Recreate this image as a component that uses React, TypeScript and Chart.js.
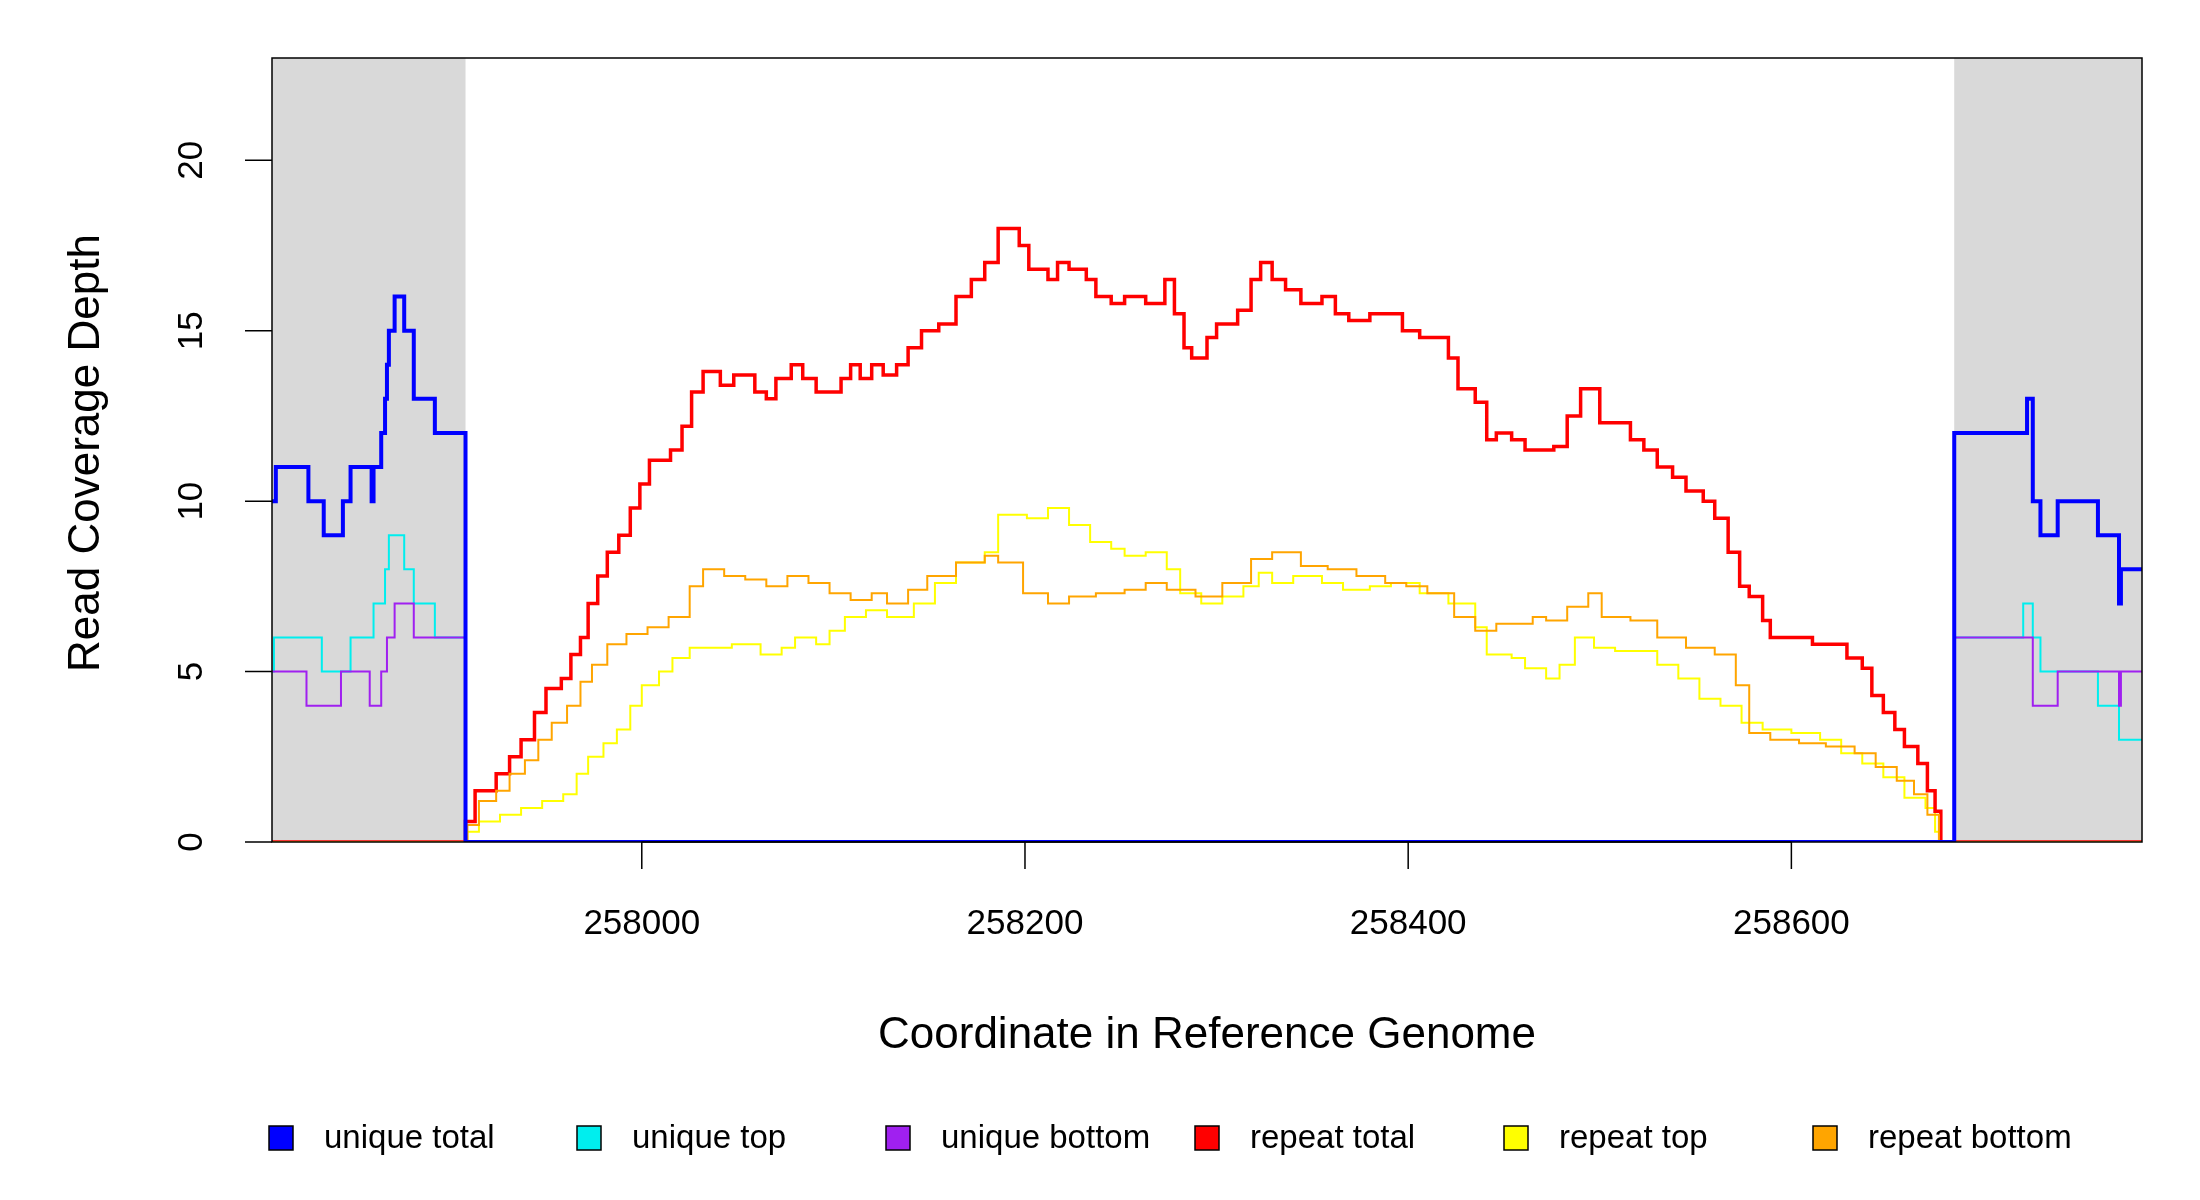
import React, { useEffect, useRef } from "react";
import { Chart, registerables } from "chart.js";
Chart.register(...registerables);

const X_MIN = 257807;
const X_MAX = 258783;
const Y_MAX = 23;
const SHADE_LEFT = [257807, 257908];
const SHADE_RIGHT = [258685, 258783];
const X_TICKS = [258000, 258200, 258400, 258600];
const Y_TICKS = [0, 5, 10, 15, 20];

const uniqueTotalX = [257807, 257809, 257826, 257834, 257844, 257848, 257859, 257860, 257864, 257866, 257867, 257868, 257871, 257876, 257881, 257892, 257908, 258685, 258723, 258726, 258730, 258739, 258760, 258771, 258772, 258783];
const uniqueTotalY = [10, 11, 10, 9, 10, 11, 10, 11, 12, 13, 14, 15, 16, 15, 13, 12, 0, 12, 13, 10, 9, 10, 9, 7, 8, 8];

const uniqueTopX = [257807, 257808, 257833, 257848, 257860, 257866, 257868, 257876, 257881, 257892, 257908, 258685, 258721, 258726, 258730, 258760, 258771, 258783];
const uniqueTopY = [5, 6, 5, 6, 7, 8, 9, 8, 7, 6, 0, 6, 7, 6, 5, 4, 3, 3];

const uniqueBottomX = [257807, 257825, 257843, 257858, 257864, 257867, 257871, 257881, 257908, 258685, 258726, 258739, 258771, 258772, 258783];
const uniqueBottomY = [5, 4, 5, 4, 5, 6, 7, 6, 0, 6, 4, 5, 4, 5, 5];

const repeatTotalX = [257807, 257908, 257913, 257924, 257931, 257937, 257944, 257950, 257958, 257963, 257968, 257972, 257977, 257982, 257988, 257994, 257999, 258004, 258015, 258021, 258026, 258032, 258041, 258048, 258059, 258065, 258070, 258078, 258084, 258091, 258098, 258104, 258109, 258114, 258120, 258126, 258133, 258139, 258146, 258155, 258164, 258172, 258179, 258186, 258197, 258202, 258212, 258217, 258223, 258232, 258237, 258245, 258252, 258263, 258273, 258278, 258283, 258287, 258295, 258300, 258311, 258318, 258323, 258329, 258336, 258344, 258355, 258362, 258369, 258380, 258391, 258397, 258406, 258413, 258421, 258426, 258435, 258441, 258446, 258454, 258461, 258468, 258476, 258483, 258490, 258500, 258508, 258516, 258523, 258530, 258538, 258545, 258554, 258560, 258567, 258573, 258578, 258585, 258589, 258600, 258611, 258622, 258629, 258637, 258642, 258648, 258654, 258659, 258666, 258671, 258675, 258678, 258783];
const repeatTotalY = [0, 0.6, 1.5, 2, 2.5, 3, 3.8, 4.5, 4.8, 5.5, 6, 7, 7.8, 8.5, 9, 9.8, 10.5, 11.2, 11.5, 12.2, 13.2, 13.8, 13.4, 13.7, 13.2, 13, 13.6, 14, 13.6, 13.2, 13.2, 13.6, 14, 13.6, 14, 13.7, 14, 14.5, 15, 15.2, 16, 16.5, 17, 18, 17.5, 16.8, 16.5, 17, 16.8, 16.5, 16, 15.8, 16, 15.8, 16.5, 15.5, 14.5, 14.2, 14.8, 15.2, 15.6, 16.5, 17, 16.5, 16.2, 15.8, 16, 15.5, 15.3, 15.5, 15.5, 15, 14.8, 14.8, 14.2, 13.3, 12.9, 11.8, 12, 11.8, 11.5, 11.5, 11.6, 12.5, 13.3, 12.3, 12.3, 11.8, 11.5, 11, 10.7, 10.3, 10, 9.5, 8.5, 7.5, 7.2, 6.5, 6, 6, 5.8, 5.8, 5.4, 5.1, 4.3, 3.8, 3.3, 2.8, 2.3, 1.5, 0.9, 0, 0];

const repeatTopX = [257807, 257909, 257915, 257926, 257937, 257948, 257959, 257966, 257972, 257980, 257987, 257994, 258000, 258009, 258016, 258025, 258047, 258062, 258073, 258080, 258091, 258098, 258106, 258117, 258128, 258142, 258153, 258164, 258179, 258186, 258201, 258212, 258223, 258234, 258245, 258252, 258263, 258274, 258281, 258292, 258303, 258314, 258322, 258329, 258340, 258355, 258366, 258380, 258391, 258406, 258421, 258435, 258441, 258454, 258461, 258472, 258479, 258487, 258497, 258508, 258519, 258530, 258541, 258552, 258563, 258574, 258585, 258600, 258615, 258626, 258637, 258648, 258659, 258670, 258675, 258678, 258783];
const repeatTopY = [0, 0.3, 0.6, 0.8, 1, 1.2, 1.4, 2, 2.5, 2.9, 3.3, 4, 4.6, 5, 5.4, 5.7, 5.8, 5.5, 5.7, 6, 5.8, 6.2, 6.6, 6.8, 6.6, 7, 7.6, 8.2, 8.5, 9.6, 9.5, 9.8, 9.3, 8.8, 8.6, 8.4, 8.5, 8, 7.3, 7, 7.2, 7.5, 7.9, 7.6, 7.8, 7.6, 7.4, 7.5, 7.6, 7.3, 7, 6.3, 5.5, 5.4, 5.1, 4.8, 5.2, 6, 5.7, 5.6, 5.6, 5.2, 4.8, 4.2, 4, 3.5, 3.3, 3.2, 3, 2.6, 2.3, 1.9, 1.3, 1, 0.3, 0, 0];

const repeatBottomX = [257807, 257909, 257915, 257924, 257931, 257939, 257946, 257953, 257961, 257968, 257974, 257982, 257992, 258003, 258014, 258025, 258032, 258043, 258054, 258065, 258076, 258087, 258098, 258109, 258120, 258128, 258139, 258149, 258164, 258179, 258186, 258199, 258212, 258223, 258237, 258252, 258263, 258274, 258289, 258303, 258318, 258329, 258344, 258358, 258373, 258388, 258399, 258410, 258424, 258435, 258446, 258465, 258472, 258483, 258494, 258501, 258516, 258530, 258545, 258560, 258571, 258578, 258589, 258604, 258618, 258633, 258644, 258655, 258664, 258671, 258677, 258783];
const repeatBottomY = [0, 0.5, 1.2, 1.5, 2, 2.4, 3, 3.5, 4, 4.7, 5.2, 5.8, 6.1, 6.3, 6.6, 7.5, 8, 7.8, 7.7, 7.5, 7.8, 7.6, 7.3, 7.1, 7.3, 7, 7.4, 7.8, 8.2, 8.4, 8.2, 7.3, 7, 7.2, 7.3, 7.4, 7.6, 7.4, 7.2, 7.6, 8.3, 8.5, 8.1, 8, 7.8, 7.6, 7.5, 7.3, 6.6, 6.2, 6.4, 6.6, 6.5, 6.9, 7.3, 6.6, 6.5, 6, 5.7, 5.5, 4.6, 3.2, 3, 2.9, 2.8, 2.6, 2.2, 1.8, 1.4, 0.8, 0, 0];

const SERIES = [
  { label: "unique total", xs: uniqueTotalX, ys: uniqueTotalY, color: "#0000ff", width: 4, order: 0 },
  { label: "unique top", xs: uniqueTopX, ys: uniqueTopY, color: "#00eeee", width: 2, order: 5 },
  { label: "unique bottom", xs: uniqueBottomX, ys: uniqueBottomY, color: "#a020f0", width: 2, order: 4 },
  { label: "repeat total", xs: repeatTotalX, ys: repeatTotalY, color: "#ff0000", width: 3.5, order: 2 },
  { label: "repeat top", xs: repeatTopX, ys: repeatTopY, color: "#ffff00", width: 2, order: 3 },
  { label: "repeat bottom", xs: repeatBottomX, ys: repeatBottomY, color: "#ffa500", width: 2, order: 1 },
];
const LEGEND_X = [281, 589, 898, 1207, 1516, 1825];

const FONT = "'Liberation Sans', Arial, sans-serif";

const rPlugin = {
  id: "rstyle",
  beforeDatasetsDraw(chart: any) {
    const { ctx, chartArea: a, scales } = chart;
    const x = scales.x;
    ctx.save();
    ctx.fillStyle = "#d9d9d9";
    for (const s of [SHADE_LEFT, SHADE_RIGHT]) {
      const x0 = x.getPixelForValue(s[0]);
      const x1 = x.getPixelForValue(s[1]);
      ctx.fillRect(x0, a.top, x1 - x0, a.bottom - a.top);
    }
    ctx.restore();
  },
  afterDraw(chart: any) {
    const { ctx, chartArea: a, scales } = chart;
    const x = scales.x;
    const y = scales.y;
    ctx.save();
    ctx.strokeStyle = "#000";
    ctx.lineWidth = 1.5;
    ctx.strokeRect(a.left, a.top, a.right - a.left, a.bottom - a.top);
    ctx.fillStyle = "#000";
    ctx.font = `35px ${FONT}`;
    ctx.beginPath();
    ctx.moveTo(x.getPixelForValue(X_TICKS[0]), a.bottom);
    ctx.lineTo(x.getPixelForValue(X_TICKS[X_TICKS.length - 1]), a.bottom);
    ctx.textAlign = "center";
    ctx.textBaseline = "middle";
    for (const t of X_TICKS) {
      const px = x.getPixelForValue(t);
      ctx.moveTo(px, a.bottom);
      ctx.lineTo(px, a.bottom + 27);
      ctx.fillText(String(t), px, a.bottom + 82);
    }
    for (const t of Y_TICKS) {
      const py = y.getPixelForValue(t);
      ctx.moveTo(a.left, py);
      ctx.lineTo(a.left - 27, py);
      ctx.save();
      ctx.translate(a.left - 80, py);
      ctx.rotate(-Math.PI / 2);
      ctx.fillText(String(t), 0, 0);
      ctx.restore();
    }
    ctx.stroke();
    ctx.font = `44px ${FONT}`;
    ctx.fillText("Coordinate in Reference Genome", (a.left + a.right) / 2, 1036);
    ctx.save();
    ctx.translate(87, (a.top + a.bottom) / 2 + 3);
    ctx.rotate(-Math.PI / 2);
    ctx.fillText("Read Coverage Depth", 0, 0);
    ctx.restore();
    ctx.font = `33px ${FONT}`;
    ctx.textAlign = "left";
    SERIES.forEach((s, i) => {
      const lx = LEGEND_X[i];
      ctx.fillStyle = s.color;
      ctx.fillRect(lx - 12, 1126, 24, 24);
      ctx.strokeStyle = "#000";
      ctx.lineWidth = 1.5;
      ctx.strokeRect(lx - 12, 1126, 24, 24);
      ctx.fillStyle = "#000";
      ctx.fillText(s.label, lx + 43, 1139);
    });
    ctx.restore();
  },
};

export default function App() {
  const ref = useRef<HTMLCanvasElement>(null);
  useEffect(() => {
    const chart = new Chart(ref.current!, {
      type: "line",
      data: {
        datasets: SERIES.map((s) => ({
          label: s.label,
          data: s.xs.map((v, i) => ({ x: v, y: s.ys[i] })),
          borderColor: s.color,
          borderWidth: s.width,
          order: s.order,
          pointRadius: 0,
          stepped: "before" as const,
          fill: false,
        })),
      },
      options: {
        animation: false,
        responsive: false,
        devicePixelRatio: 1,
        layout: { padding: { left: 272, right: 58, top: 58, bottom: 358 } },
        scales: {
          x: { type: "linear", min: X_MIN, max: X_MAX, display: false },
          y: { type: "linear", min: 0, max: Y_MAX, display: false },
        },
        plugins: { legend: { display: false }, tooltip: { enabled: false } },
      },
      plugins: [rPlugin],
    });
    return () => chart.destroy();
  }, []);
  return (
    <div style={{ position: "fixed", left: 0, top: 0, width: 2200, height: 1200, background: "#fff" }}>
      <canvas ref={ref} width={2200} height={1200} />
    </div>
  );
}
